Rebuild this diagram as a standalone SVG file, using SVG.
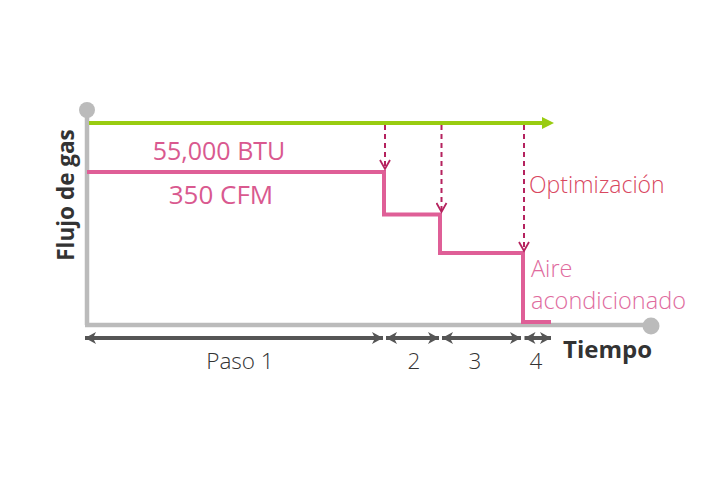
<svg xmlns="http://www.w3.org/2000/svg" width="720" height="480" viewBox="0 0 720 480">
<style>
  text { font-family: "Open Sans", "Liberation Sans", sans-serif; }
  .axis { stroke: #bbbbbb; stroke-width: 4.5; fill: none; }
  .dot { fill: #bbbbbb; }
  .green { stroke: #99cc11; stroke-width: 4; fill: none; }
  .pink { stroke: #df5f97; stroke-width: 4; fill: none; stroke-linejoin: miter; }
  .dash { stroke: #b5225e; stroke-width: 2; fill: none; stroke-dasharray: 5 4; }
  .span { stroke: #555555; stroke-width: 4; fill: none; }
  .lbl { font-weight: 700; fill: #333333; }
  .num { font-weight: 300; font-size: 22.5px; fill: #333333; text-anchor: middle; }
  .big { font-weight: 400; font-size: 25px; fill: #d9598f; text-anchor: middle; }
  .thin { font-weight: 300; font-size: 23.5px; }
</style>
<defs>
  <marker id="open" markerWidth="12" markerHeight="12" refX="10" refY="6" orient="auto" markerUnits="userSpaceOnUse">
    <path d="M1,1 L10,6 L1,11" fill="none" stroke="#b5225e" stroke-width="1.8"/>
  </marker>
  <marker id="tri" markerWidth="12" markerHeight="14" refX="11" refY="7" orient="auto-start-reverse" markerUnits="userSpaceOnUse">
    <path d="M0,1 L11,7 L0,13 L3,7 Z" fill="#555555"/>
  </marker>
</defs>

<g id="axes">
  <line class="axis" x1="87" y1="111" x2="87" y2="325"/>
  <line class="axis" x1="85" y1="325" x2="650" y2="325"/>
  <circle class="dot" cx="87" cy="110" r="8"/>
  <circle class="dot" cx="651" cy="326" r="8.5"/>
</g>

<g id="green-line">
  <line class="green" x1="89" y1="123" x2="545" y2="123"/>
  <path d="M542,117 L554,123 L542,129 Z" fill="#99cc11"/>
</g>

<g id="pink-line">
  <path class="pink" d="M87,172 L384,172 L384,214.5 L440,214.5 L440,253 L523,253 L523,322 L551,322"/>
</g>

<g id="connectors">
  <line class="dash" x1="385" y1="125" x2="385" y2="169" marker-end="url(#open)"/>
  <line class="dash" x1="441.5" y1="125" x2="441.5" y2="212" marker-end="url(#open)"/>
  <line class="dash" x1="524" y1="125" x2="524" y2="251" marker-end="url(#open)"/>
</g>

<g id="spans">
  <line class="span" x1="85" y1="338" x2="383" y2="338" marker-start="url(#tri)" marker-end="url(#tri)"/>
  <line class="span" x1="386" y1="338" x2="439" y2="338" marker-start="url(#tri)" marker-end="url(#tri)"/>
  <line class="span" x1="442" y1="338" x2="521" y2="338" marker-start="url(#tri)" marker-end="url(#tri)"/>
  <line class="span" x1="524.5" y1="338" x2="551" y2="338" marker-start="url(#tri)" marker-end="url(#tri)"/>
</g>

<g id="labels">
  <text class="lbl" transform="translate(74,195) rotate(-90)" text-anchor="middle" style="font-size:22.5px">Flujo de gas</text>
  <text class="lbl" x="563" y="358" style="font-size:24px">Tiempo</text>
  <text class="num" x="240" y="369">Paso 1</text>
  <text class="num" x="414" y="369">2</text>
  <text class="num" x="475" y="369">3</text>
  <text class="num" x="536" y="369">4</text>
  <text class="big" x="219" y="160">55,000 BTU</text>
  <text class="big" x="221" y="204" style="font-size:26px">350 CFM</text>
  <text class="thin" x="529" y="193" fill="#d9485f" style="font-size:23px">Optimización</text>
  <text class="thin" x="531" y="277" fill="#e06b9e">Aire</text>
  <text class="thin" x="531" y="309" fill="#e06b9e">acondicionado</text>
</g>
</svg>
